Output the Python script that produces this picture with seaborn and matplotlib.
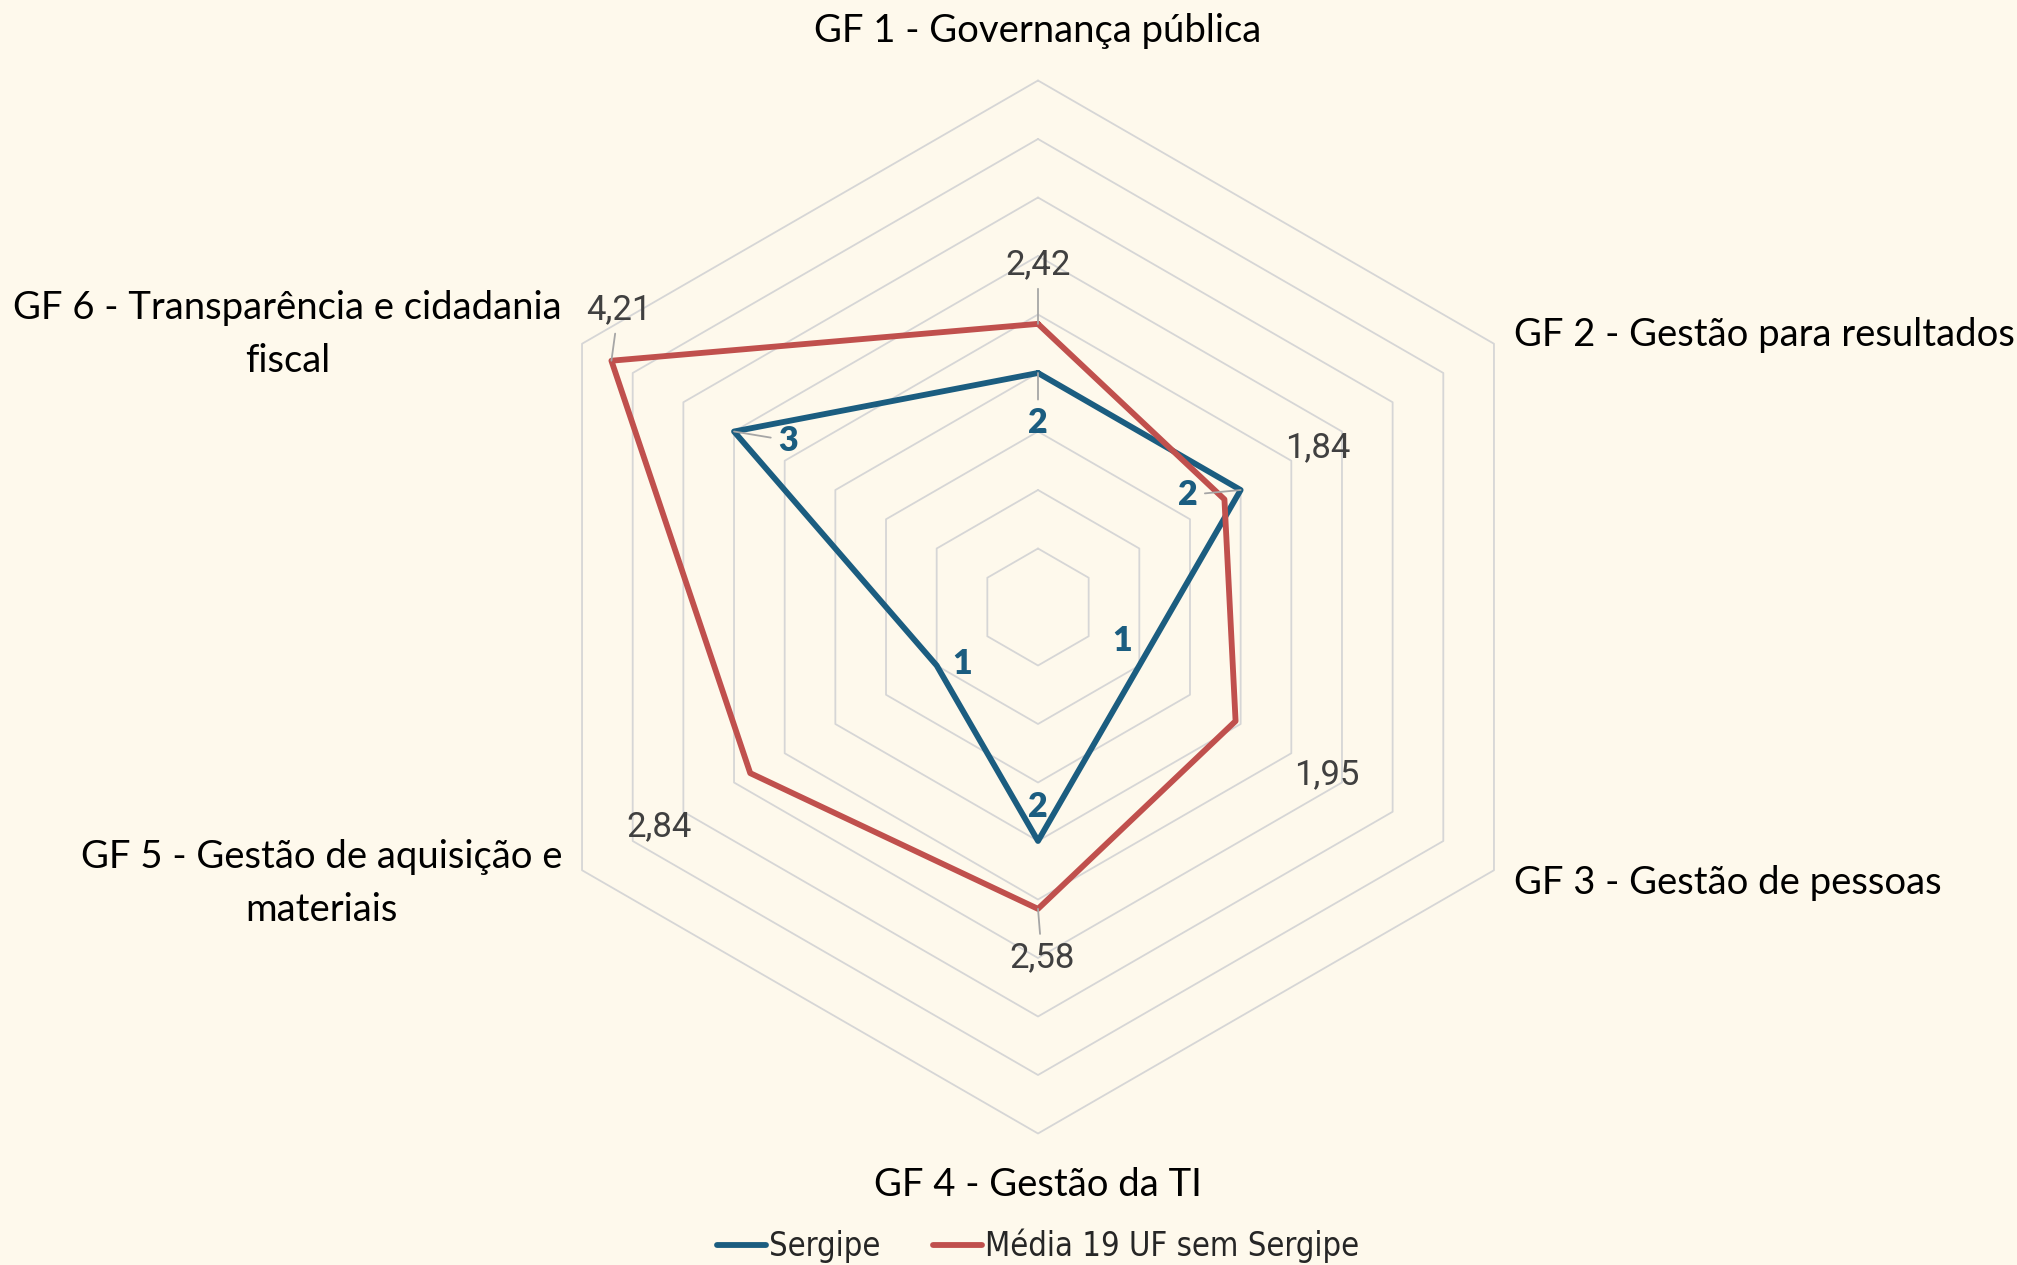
import matplotlib
matplotlib.use("Agg")
import matplotlib.pyplot as plt
from matplotlib.lines import Line2D
from matplotlib.font_manager import FontProperties
import seaborn as sns
import numpy as np
import pandas as pd

# data
categories = [
    "GF 1 - Governança pública",
    "GF 2 - Gestão para resultados",
    "GF 3 - Gestão de pessoas",
    "GF 4 - Gestão da TI",
    "GF 5 - Gestão de aquisição e\nmateriais",
    "GF 6 - Transparência e cidadania\nfiscal",
]
sergipe = [2, 2, 1, 2, 1, 3]
media = [2.42, 1.84, 1.95, 2.58, 2.84, 4.21]
series_names = ["Sergipe", "Média 19 UF sem Sergipe"]
ring_values = [0.5, 1.0, 1.5, 2.0, 2.5, 3.0, 3.5, 4.0, 4.5]

# style
BG = "#FEF9EC"
BLUE = "#1B5D80"
RED = "#C0504D"
GRID = "#D6D6D6"
LEADER = "#A6A6A6"

sns.set_theme(style="white")
plt.rcParams["font.family"] = ["Lato", "DejaVu Sans"]

W, H = 2017, 1265
CX, CY, PPU = 1038, 607, 117.0  # centre in pixels, pixels per unit

n = len(categories)
theta = np.deg2rad(90 - 60 * np.arange(n))


def to_xy(vals):
    vals = np.asarray(vals, dtype=float)
    return vals * np.cos(theta), vals * np.sin(theta)


fig = plt.figure(figsize=(W / 100, H / 100), dpi=100)
fig.patch.set_facecolor(BG)
ax = fig.add_axes([0, 0, 1, 1])
ax.set_facecolor(BG)
ax.set_xlim(-CX / PPU, (W - CX) / PPU)
ax.set_ylim(-(H - CY) / PPU, CY / PPU)
ax.set_axis_off()

# hexagon grid
for rv in ring_values:
    gx, gy = to_xy([rv] * n)
    ax.plot(np.append(gx, gx[0]), np.append(gy, gy[0]), color=GRID, lw=1.3, zorder=1)

# series lines
rows = []
for name, vals in zip(series_names, [sergipe, media]):
    xs, ys = to_xy(vals)
    for i in list(range(n)) + [0]:
        rows.append({"x": xs[i], "y": ys[i], "serie": name})
df = pd.DataFrame(rows)
sns.lineplot(
    data=df, x="x", y="y", hue="serie", hue_order=series_names,
    palette=[BLUE, RED], sort=False, estimator=None, linewidth=4.2,
    legend=False, ax=ax, zorder=3,
)

# category labels (offsets in pixels from outer vertex)
cat_offsets = [(0, 50), (20, 9), (20, -13), (0, -51), (-20, -13), (-20, 9)]
cat_ha = ["center", "left", "left", "center", "right", "right"]
ox, oy = to_xy([ring_values[-1]] * n)
for i, cat in enumerate(categories):
    ax.annotate(
        cat, xy=(ox[i], oy[i]), xytext=cat_offsets[i], textcoords="offset pixels",
        ha=cat_ha[i], va="center", multialignment="center", fontsize=27.5,
        color="#000000", linespacing=1.6,
    )

# data labels
media_offsets = [(0, 59), (93, 52), (91, -54), (4, -49), (-91, -54), (7, 51)]
media_leader = [True, False, False, True, False, True]
serg_offsets = [(0, -50), (-53, -5), (-17, 25), (0, 34), (25, 2), (54, -9)]
serg_leader = [True, True, False, False, False, True]

mx, my = to_xy(media)
for i, v in enumerate(media):
    ap = dict(arrowstyle="-", color=LEADER, lw=1.3, shrinkA=3, shrinkB=0) if media_leader[i] else None
    ax.annotate(
        f"{v:.2f}".replace(".", ","), xy=(mx[i], my[i]), xytext=media_offsets[i],
        textcoords="offset pixels", ha="center", va="center", fontsize=25,
        color="#404040", family=["Roboto", "DejaVu Sans"], arrowprops=ap, zorder=4,
    )

sx, sy = to_xy(sergipe)
for i, v in enumerate(sergipe):
    ap = dict(arrowstyle="-", color=LEADER, lw=1.3, shrinkA=3, shrinkB=0) if serg_leader[i] else None
    ax.annotate(
        str(v), xy=(sx[i], sy[i]), xytext=serg_offsets[i],
        textcoords="offset pixels", ha="center", va="center", fontsize=24.5,
        fontweight="heavy", color=BLUE, arrowprops=ap, zorder=4,
    )

# legend
handles = [
    Line2D([], [], color=BLUE, lw=4.2, solid_capstyle="round"),
    Line2D([], [], color=RED, lw=4.2, solid_capstyle="round"),
]
leg_font = FontProperties(family="DejaVu Sans", stretch="condensed", size=23.5)
fig.legend(
    handles, series_names, loc="center", bbox_to_anchor=(CX / W, 1 - 1246 / H),
    ncol=2, frameon=False, handlelength=1.5, handletextpad=0.1,
    columnspacing=1.6, prop=leg_font,
)

fig.savefig("out.png", dpi=100, facecolor=BG)
